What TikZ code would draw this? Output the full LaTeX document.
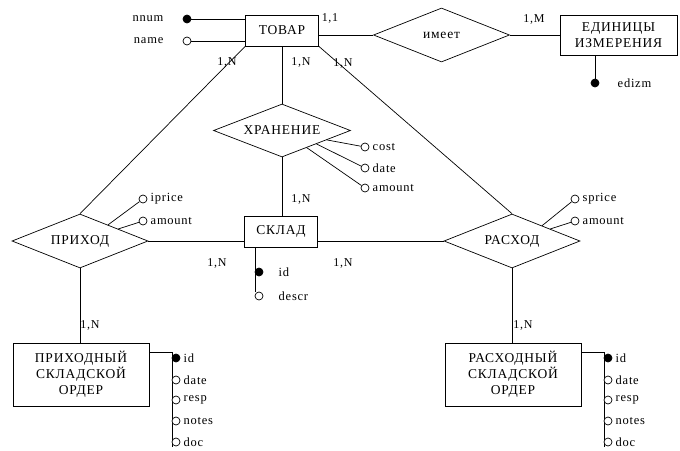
\documentclass[tikz,border=0pt]{standalone}
\usepackage{fontspec}
\setmainfont{Liberation Serif}[LetterSpace=6]
\usetikzlibrary{shapes.geometric,calc}
\begin{document}
\begin{tikzpicture}[
    x=1pt, y=-1pt, line width=0.7pt,
    every node/.style={font=\fontsize{13.5}{16}\selectfont},
    box/.style={draw, rectangle, minimum width=73pt, minimum height=31pt, align=center, inner sep=0pt},
    bigbox/.style={box, minimum width=136pt, minimum height=63pt},
    rel/.style={draw, diamond, aspect=2.5, minimum width=136pt, minimum height=54pt, inner sep=0pt},
    key/.style={circle, draw, fill=black, minimum size=8pt, inner sep=0pt},
    attr/.style={circle, draw, fill=white, minimum size=8pt, inner sep=0pt},
    lbl/.style={font=\fontsize{12.5}{14}\selectfont, inner sep=1pt, label distance=2pt},
    card/.style={font=\fontsize{12}{14}\selectfont, inner sep=0pt}
]
    \useasboundingbox (0,0) rectangle (680,450);

    % Entities
    \node[box] (tovar) at (282,30.5) {ТОВАР};
    \node[box, minimum width=117pt, minimum height=40pt] (edin) at (618.5,35) {ЕДИНИЦЫ\\ИЗМЕРЕНИЯ};
    \node[box] (sklad) at (281,231.5) {СКЛАД};
    \node[bigbox] (prord) at (81,374.5) {ПРИХОДНЫЙ\\СКЛАДСКОЙ\\ОРДЕР};
    \node[bigbox] (rsord) at (513,374.5) {РАСХОДНЫЙ\\СКЛАДСКОЙ\\ОРДЕР};

    % Relationships
    \node[rel] (imeet) at (441.5,35) {имеет};
    \node[rel, minimum width=137pt, minimum height=53pt] (hran) at (282,130.5) {ХРАНЕНИЕ};
    \node[rel] (prikhod) at (80,241) {ПРИХОД};
    \node[rel] (raskhod) at (512,241) {РАСХОД};

    % Links
    \draw (imeet.west -| tovar.east) -- (imeet.west);
    \draw (imeet.east) -- (edin.west);
    \draw (tovar.south west) -- (prikhod.north);
    \draw (tovar.south east) -- (raskhod.north);
    \draw (tovar.south) -- (hran.north);
    \draw (hran.south) -- (hran.south |- sklad.north);
    \draw (prikhod.east) -- (prikhod.east -| sklad.west);
    \draw (raskhod.west) -- (raskhod.west -| sklad.east);
    \draw (prikhod.south) -- (prikhod.south |- prord.north);
    \draw (raskhod.south) -- (raskhod.south |- rsord.north);

    % Cardinalities
    \node[card] (c11) at (330,18) {1,1};
    \node[card] (c1m) at (534,19) {1,M};
    \node[card] (ctovpr) at (227,62) {1,N};
    \node[card] (ctovhr) at (301,62) {1,N};
    \node[card] (ctovrs) at (343,63) {1,N};
    \node[card] (cskhr) at (301,199) {1,N};
    \node[card] (cskpr) at (217,263) {1,N};
    \node[card] (cskrs) at (343,263) {1,N};
    \node[card] (cprord) at (90,325) {1,N};
    \node[card] (crsord) at (523,325) {1,N};

    % Attributes of ТОВАР
    \node[key, label={[lbl, label distance=18pt]left:nnum}] (nnum) at (187,19) {};
    \node[attr, label={[lbl, label distance=18pt]left:name}] (tname) at (187,41) {};
    \draw (nnum) -- (nnum -| tovar.west);
    \draw (tname) -- (tname -| tovar.west);

    % Attribute of ЕДИНИЦЫ ИЗМЕРЕНИЯ
    \node[key, label={[lbl, label distance=17pt]right:edizm}] (edizm) at (595,83) {};
    \draw (edin.south -| edizm) -- (edizm);

    % Attributes of ХРАНЕНИЕ
    \node[attr, label={[lbl]right:cost}] (cost) at (365,147) {};
    \node[attr, label={[lbl]right:date}] (hdate) at (365,168) {};
    \node[attr, label={[lbl]right:amount}] (hamount) at (365,188) {};
    \coordinate (hr1) at ($(hran.east)!0.35!(hran.south)$);
    \coordinate (hr2) at ($(hran.east)!0.5!(hran.south)$);
    \coordinate (hr3) at ($(hran.east)!0.64!(hran.south)$);
    \draw (hr1) -- (cost);
    \draw (hr2) -- (hdate);
    \draw (hr3) -- (hamount);

    % Attributes of СКЛАД
    \coordinate (skrail) at (255,292);
    \draw (sklad.south -| skrail) -- (skrail);
    \node[key, label={[lbl, label distance=14pt]right:id}] (skid) at (259,272) {};
    \node[attr, label={[lbl, label distance=14pt]right:descr}] (skdescr) at (259,296) {};

    % Attributes of ПРИХОД
    \node[attr, label={[lbl]right:iprice}] (iprice) at (143,199) {};
    \node[attr, label={[lbl]right:amount}] (pamount) at (143,221) {};
    \coordinate (pr1) at ($(prikhod.east)!0.59!(prikhod.north)$);
    \coordinate (pr2) at ($(prikhod.east)!0.44!(prikhod.north)$);
    \draw (pr1) -- (iprice);
    \draw (pr2) -- (pamount);

    % Attributes of РАСХОД
    \node[attr, label={[lbl]right:sprice}] (sprice) at (575,199) {};
    \node[attr, label={[lbl]right:amount}] (samount) at (575,221) {};
    \coordinate (rs1) at ($(raskhod.east)!0.56!(raskhod.north)$);
    \coordinate (rs2) at ($(raskhod.east)!0.44!(raskhod.north)$);
    \draw (rs1) -- (sprice);
    \draw (rs2) -- (samount);

    % Attributes of ПРИХОДНЫЙ СКЛАДСКОЙ ОРДЕР
    \coordinate (prrail) at (172,352);
    \coordinate (prrailend) at (172,447);
    \draw (prrail -| prord.east) -- (prrail) -- (prrailend);
    \node[key, label={[lbl]right:id}] (prid) at (176,358) {};
    \node[attr, label={[lbl]right:date}] (prdate) at (176,380) {};
    \node[attr, label={[lbl]right:resp}] (prresp) at (176,400) {};
    \node[attr, label={[lbl]right:notes}] (prnotes) at (176,421) {};
    \node[attr, label={[lbl]right:doc}] (prdoc) at (176,442) {};

    % Attributes of РАСХОДНЫЙ СКЛАДСКОЙ ОРДЕР
    \coordinate (rsrail) at (604,352);
    \coordinate (rsrailend) at (604,447);
    \draw (rsrail -| rsord.east) -- (rsrail) -- (rsrailend);
    \node[key, label={[lbl]right:id}] (rsid) at (608,358) {};
    \node[attr, label={[lbl]right:date}] (rsdate) at (608,380) {};
    \node[attr, label={[lbl]right:resp}] (rsresp) at (608,400) {};
    \node[attr, label={[lbl]right:notes}] (rsnotes) at (608,421) {};
    \node[attr, label={[lbl]right:doc}] (rsdoc) at (608,442) {};

\end{tikzpicture}
\end{document}
